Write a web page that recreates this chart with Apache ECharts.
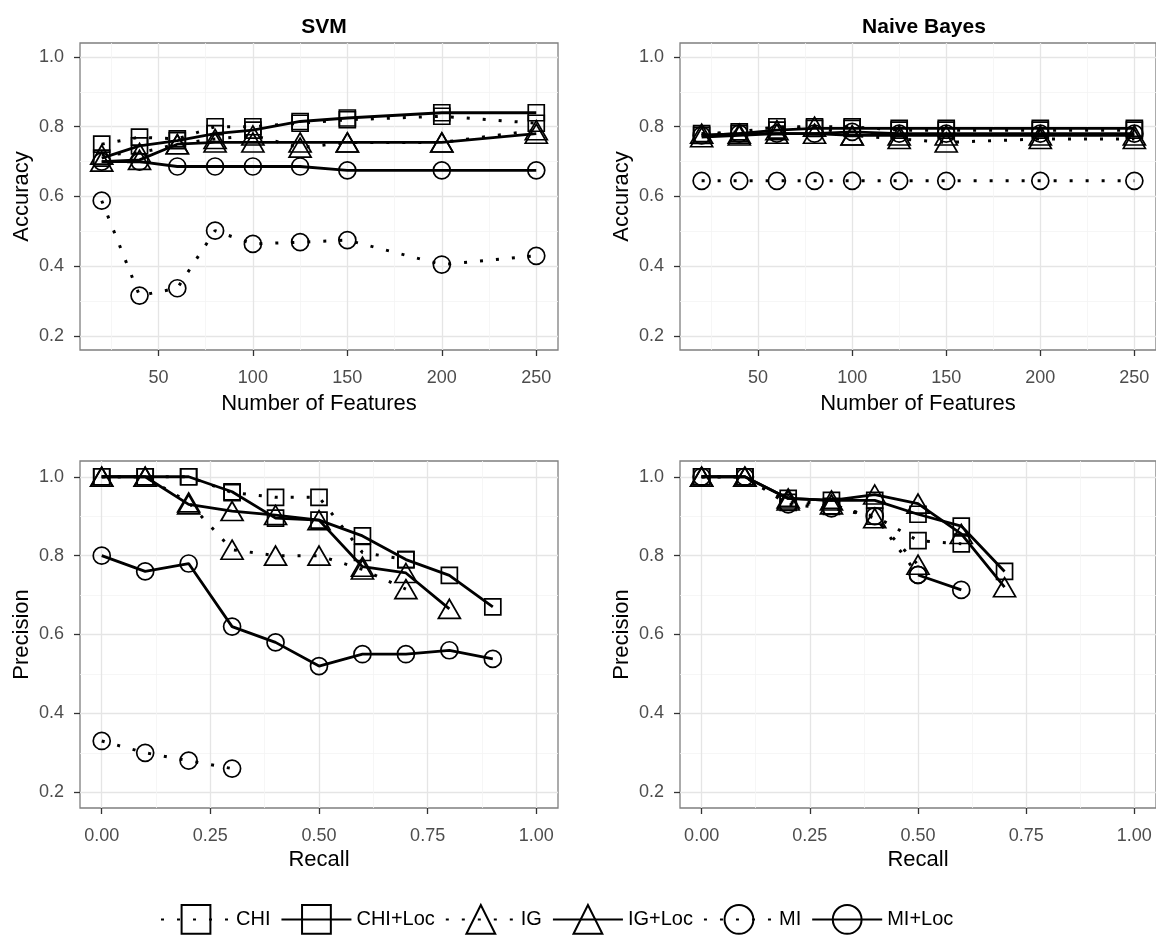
<!DOCTYPE html>
<html><head><meta charset="utf-8">
<script src="https://cdn.jsdelivr.net/npm/echarts@6/dist/echarts.min.js"></script>
<style>html,body{margin:0;padding:0;background:#fff}#c{width:1156px;height:945px}</style>
</head><body><div id="c"></div>
<script>
// ---------- data ----------
const methods = ['CHI', 'CHI+Loc', 'IG', 'IG+Loc', 'MI', 'MI+Loc'];
const features = [20, 40, 60, 80, 100, 125, 150, 200, 250];
const recall = [0, 0.1, 0.2, 0.3, 0.4, 0.5, 0.6, 0.7, 0.8, 0.9];

const featureTicks = [50, 100, 150, 200, 250];
const featureMinor = [25, 75, 125, 175, 225];
const recallTicks = [0, 0.25, 0.5, 0.75, 1];
const recallMinor = [0.125, 0.375, 0.625, 0.875];
const scoreTicks = [0.2, 0.4, 0.6, 0.8, 1.0];
const scoreMinor = [0.3, 0.5, 0.7, 0.9];

// SVM accuracy vs number of features
const svmAccCHI    = [0.75, 0.77, 0.765, 0.80, 0.80, 0.81, 0.82, 0.83, 0.81];
const svmAccCHILoc = [0.71, 0.745, 0.76, 0.78, 0.79, 0.815, 0.825, 0.84, 0.84];
const svmAccIG     = [0.72, 0.725, 0.75, 0.765, 0.775, 0.74, 0.755, 0.755, 0.79];
const svmAccIGLoc  = [0.70, 0.705, 0.75, 0.755, 0.755, 0.755, 0.755, 0.755, 0.78];
const svmAccMI     = [0.588, 0.316, 0.337, 0.502, 0.464, 0.469, 0.475, 0.405, 0.43];
const svmAccMILoc  = [0.70, 0.70, 0.686, 0.686, 0.686, 0.686, 0.675, 0.675, 0.675];

// Naive Bayes accuracy vs number of features
const nbAccCHI    = [0.78, 0.785, 0.80, 0.80, 0.80, 0.79, 0.79, 0.79, 0.79];
const nbAccCHILoc = [0.775, 0.78, 0.79, 0.795, 0.795, 0.795, 0.795, 0.795, 0.795];
const nbAccIG     = [0.78, 0.78, 0.79, 0.80, 0.775, 0.765, 0.755, 0.765, 0.765];
const nbAccIGLoc  = [0.77, 0.775, 0.78, 0.78, 0.775, 0.775, 0.775, 0.775, 0.775];
const nbAccMI     = [0.645, 0.645, 0.645, 0.645, 0.645, 0.645, 0.645, 0.645, 0.645];
const nbAccMILoc  = [0.775, 0.78, 0.78, 0.78, 0.785, 0.78, 0.78, 0.78, 0.78];

// SVM precision vs recall
const svmPrCHI    = [1, 1, 1, 0.96, 0.948, 0.948, 0.808, 0.79];
const svmPrCHILoc = [1, 1, 1, 0.962, 0.895, 0.89, 0.85, 0.79, 0.75, 0.67];
const svmPrIG     = [1, 1, 0.935, 0.815, 0.80, 0.80, 0.765, 0.715];
const svmPrIGLoc  = [1, 1, 0.93, 0.913, 0.903, 0.89, 0.772, 0.756, 0.665];
const svmPrMI     = [0.33, 0.30, 0.28, 0.26];
const svmPrMILoc  = [0.80, 0.76, 0.78, 0.62, 0.58, 0.52, 0.55, 0.55, 0.56, 0.538];

// Naive Bayes precision vs recall
const nbPrCHI    = [1, 1, 0.935, 0.925, 0.90, 0.838, 0.83];
const nbPrCHILoc = [1, 1, 0.945, 0.94, 0.94, 0.905, 0.875, 0.76];
const nbPrIG     = [1, 1, 0.94, 0.93, 0.895, 0.777];
const nbPrIGLoc  = [1, 1, 0.945, 0.94, 0.955, 0.932, 0.855, 0.72];
const nbPrMI     = [1, 1, 0.93, 0.92, 0.90, 0.751];
const nbPrMILoc  = [null, null, null, null, null, 0.751, 0.713];

// ---------- build ----------
const panels = [
  { x: features, ys: [svmAccCHI, svmAccCHILoc, svmAccIG, svmAccIGLoc, svmAccMI, svmAccMILoc] },
  { x: features, ys: [nbAccCHI, nbAccCHILoc, nbAccIG, nbAccIGLoc, nbAccMI, nbAccMILoc] },
  { x: recall, ys: [svmPrCHI, svmPrCHILoc, svmPrIG, svmPrIGLoc, svmPrMI, svmPrMILoc] },
  { x: recall, ys: [nbPrCHI, nbPrCHILoc, nbPrIG, nbPrIGLoc, nbPrMI, nbPrMILoc] }
];

const FONT = '"Liberation Sans", Arial, sans-serif';
const grids = [
  { left: 80, top: 43, width: 478, height: 307 },
  { left: 680, top: 43, width: 478, height: 307 },
  { left: 80, top: 461, width: 478, height: 347 },
  { left: 680, top: 461, width: 478, height: 347 }
].map(g => Object.assign(g, { show: true, borderColor: '#7f7f7f', borderWidth: 1.3, backgroundColor: '#fff' }));

const xAxes = [], yAxes = [];
function addAxes(gi, isTop) {
  const xMin = isTop ? 8.5 : -0.05, xMax = isTop ? 261.5 : 1.05;
  const xt = isTop ? featureTicks : recallTicks;
  const xm = isTop ? featureMinor : recallMinor;
  const xName = isTop ? 'Number of Features' : 'Recall';
  const yName = isTop ? 'Accuracy' : 'Precision';
  xAxes.push({
    type: 'value', gridIndex: gi, min: xMin, max: xMax, position: 'bottom',
    axisLine: { show: false, onZero: false },
    axisTick: { show: true, customValues: xt, length: 6, lineStyle: { color: '#333', width: 1.3 } },
    axisLabel: { customValues: xt, color: '#4d4d4d', fontSize: 18, fontFamily: FONT, margin: 19,
      formatter: v => isTop ? String(v) : v.toFixed(2) },
    splitLine: { show: true, lineStyle: { color: '#e5e5e5', width: 1.3 } },
    name: xName, nameLocation: 'middle', nameGap: isTop ? 43 : 41,
    nameTextStyle: { color: '#000', fontSize: 22, fontFamily: FONT }
  });
  xAxes.push({
    type: 'value', gridIndex: gi, min: xMin, max: xMax, position: 'bottom',
    axisLine: { show: false, onZero: false }, axisLabel: { show: false },
    axisTick: { show: false, customValues: xm },
    splitLine: { show: true, lineStyle: { color: '#f4f4f4', width: 0.8 } }
  });
  yAxes.push({
    type: 'value', gridIndex: gi, min: 0.16, max: 1.04, position: 'left',
    axisLine: { show: false, onZero: false },
    axisTick: { show: true, customValues: scoreTicks, length: 6, lineStyle: { color: '#333', width: 1.3 } },
    axisLabel: { customValues: scoreTicks, color: '#4d4d4d', fontSize: 18, fontFamily: FONT, margin: 16,
      formatter: v => v.toFixed(1) },
    splitLine: { show: true, lineStyle: { color: '#e5e5e5', width: 1.3 } },
    name: yName, nameLocation: 'middle', nameGap: 47,
    nameTextStyle: { color: '#000', fontSize: 22, fontFamily: FONT }
  });
  yAxes.push({
    type: 'value', gridIndex: gi, min: 0.16, max: 1.04, position: 'left',
    axisLine: { show: false, onZero: false }, axisLabel: { show: false },
    axisTick: { show: false, customValues: scoreMinor },
    splitLine: { show: true, lineStyle: { color: '#f4f4f4', width: 0.8 } }
  });
}
addAxes(0, true); addAxes(1, true); addAxes(2, false); addAxes(3, false);

const symbolOf = m => m.startsWith('CHI') ? 'rect' : (m.startsWith('IG') ? 'triangle' : 'circle');
const sizeOf = m => m.startsWith('CHI') ? 16 : (m.startsWith('IG') ? [22, 19] : 17);

const series = [];
panels.forEach((p, gi) => {
  methods.forEach((m, mi) => {
    const ys = p.ys[mi];
    const data = ys.map((v, j) => [p.x[j], v]);
    const loc = m.endsWith('Loc');
    series.push({
      type: 'line', name: m, xAxisIndex: gi * 2, yAxisIndex: gi * 2,
      data: data, connectNulls: false,
      symbol: symbolOf(m), symbolSize: sizeOf(m), showAllSymbol: true,
      itemStyle: { color: 'rgba(0,0,0,0)', borderColor: '#000', borderWidth: 1.7 },
      lineStyle: loc ? { color: '#000', width: 2.8, type: 'solid' }
                     : { color: '#000', width: 3, type: [3, 13], cap: 'butt' },
      emphasis: { disabled: true }, z: 2 + mi
    });
  });
});

const chart = echarts.init(document.getElementById('c'), null, { renderer: 'canvas' });
chart.setOption({
  animation: false,
  backgroundColor: '#fff',
  title: [
    { text: 'SVM', left: 319, top: 12, textAlign: 'center',
      textStyle: { fontSize: 21, fontWeight: 'bold', color: '#000', fontFamily: FONT } },
    { text: 'Naive Bayes', left: 919, top: 12, textAlign: 'center',
      textStyle: { fontSize: 21, fontWeight: 'bold', color: '#000', fontFamily: FONT } }
  ],
  legend: {
    data: methods, left: 155, top: 899, orient: 'horizontal',
    itemWidth: 70, itemHeight: 36, itemGap: 10, selectedMode: false,
    textStyle: { fontSize: 20, color: '#000', fontFamily: FONT }
  },
  grid: grids,
  xAxis: xAxes,
  yAxis: yAxes,
  series: series
});
</script>
</body></html>
